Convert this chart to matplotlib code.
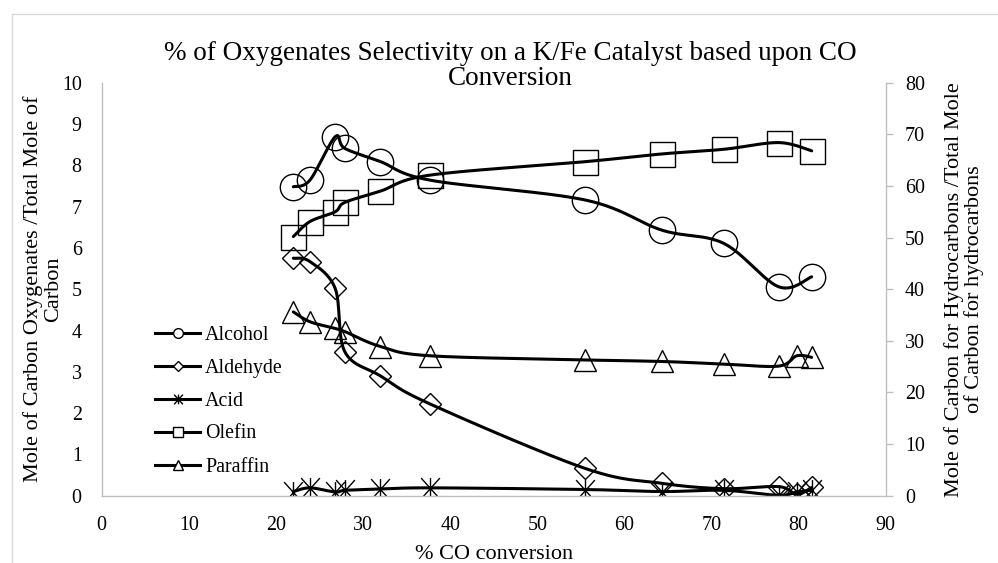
import numpy as np
import matplotlib
matplotlib.use("Agg")
import matplotlib.pyplot as plt
from matplotlib.lines import Line2D
from matplotlib.path import Path
from matplotlib.patches import Rectangle

plt.rcParams['font.family'] = ['Liberation Serif', 'DejaVu Serif']

# ---- data -------------------------------------------------------------
co_conv = [22.0, 23.9, 26.8, 27.9, 32.0, 37.7, 55.5, 64.3, 71.4, 77.7, 79.8, 81.5]
co_conv_no80 = [22.0, 23.9, 26.8, 27.9, 32.0, 37.7, 55.5, 64.3, 71.4, 77.7, 81.5]

alcohol = [7.48, 7.64, 8.69, 8.41, 8.09, 7.64, 7.16, 6.43, 6.11, 5.06, 5.30]
aldehyde = [5.75, 5.67, 5.02, 3.49, 2.90, 2.22, 0.66, 0.30, 0.17, 0.22, 0.03, 0.20]
acid = [0.10, 0.19, 0.09, 0.13, 0.16, 0.19, 0.15, 0.10, 0.13, 0.01, 0.09, 0.13]
olefin = [50.2, 53.1, 55.0, 56.8, 59.0, 62.1, 64.7, 66.2, 67.1, 68.4, 66.8]
paraffin = [35.6, 33.7, 32.4, 31.8, 28.9, 27.1, 26.3, 26.0, 25.5, 25.1, 27.1, 26.8]

x_ticks = [0, 10, 20, 30, 40, 50, 60, 70, 80, 90]
left_ticks = list(range(0, 11))
right_ticks = list(range(0, 81, 10))

title = "% of Oxygenates Selectivity on a K/Fe Catalyst based upon CO\nConversion"
xlabel = "% CO conversion"
ylabel_left = "Mole of Carbon Oxygenates /Total Mole of\nCarbon"
ylabel_right = "Mole of Carbon for Hydrocarbons /Total Mole\nof Carbon for hydrocarbons"


def smooth(xs, ys, n=40):
    """Catmull-Rom style smoothed line through the points (cubic Bezier segments)."""
    p = np.column_stack([xs, ys]).astype(float)
    ext = np.vstack([p[0], p, p[-1]])
    out = [p[:1]]
    t = np.linspace(0, 1, n)[1:, None]
    for i in range(len(p) - 1):
        p0, p1, p2, p3 = ext[i], ext[i + 1], ext[i + 2], ext[i + 3]
        c1 = p1 + (p2 - p0) / 6.0
        c2 = p2 - (p3 - p1) / 6.0
        seg = ((1 - t) ** 3) * p1 + 3 * ((1 - t) ** 2) * t * c1 + 3 * (1 - t) * t ** 2 * c2 + t ** 3 * p2
        out.append(seg)
    pts = np.vstack(out)
    return pts[:, 0], pts[:, 1]


# asterisk marker: an X with a vertical bar
star_path = Path(
    [(-0.9, -1), (0.9, 1), (-0.9, 1), (0.9, -1), (0, -1), (0, 1)],
    [Path.MOVETO, Path.LINETO, Path.MOVETO, Path.LINETO, Path.MOVETO, Path.LINETO],
)

W, H, DPI = 998, 563, 100
fig = plt.figure(figsize=(W / DPI, H / DPI), dpi=DPI)
fig.patch.set_facecolor('white')

# chart-area frame
fig.patches.append(Rectangle((12 / W, -0.2), 1.5, 1 - 14 / H + 0.2, transform=fig.transFigure,
                             fill=False, edgecolor='#d9d9d9', linewidth=1.0, zorder=0))

left, right, bottom, top = 101.7, 885.7, 495.7, 82.7
ax = fig.add_axes([left / W, 1 - bottom / H, (right - left) / W, (bottom - top) / H])
ax2 = ax.twinx()

LW = 2.2
MEW = 1.0
grey = '#bfbfbf'

series_left = [
    ("Alcohol", co_conv_no80, alcohol, 'o', 19),
    ("Aldehyde", co_conv, aldehyde, 'D', 11.5),
    ("Acid", co_conv, acid, star_path, 15),
]
series_right = [
    ("Olefin", co_conv_no80, olefin, 's', 18),
    ("Paraffin", co_conv, paraffin, '^', 16.5),
]

for axis, group in ((ax, series_left), (ax2, series_right)):
    for name, xs, ys, mk, ms in group:
        axis.plot(xs, ys, linestyle='none', marker=mk, markersize=ms,
                  markerfacecolor='none', markeredgecolor='black', markeredgewidth=MEW)
        sx, sy = smooth(xs, ys)
        axis.plot(sx, sy, color='black', linewidth=LW, solid_capstyle='round')

ax.set_xlim(0, 90)
ax.set_ylim(0, 10)
ax2.set_ylim(0, 80)
ax.set_xticks(x_ticks)
ax.set_yticks(left_ticks)
ax2.set_yticks(right_ticks)

for a in (ax, ax2):
    a.patch.set_visible(False)
    a.spines['top'].set_visible(False)
    for s in ('left', 'right', 'bottom'):
        a.spines[s].set_color(grey)
        a.spines[s].set_linewidth(1.0)
ax.spines['right'].set_visible(False)
ax2.spines['left'].set_visible(False)
ax2.spines['bottom'].set_visible(False)

ax.tick_params(axis='x', length=0, pad=14.9, labelsize=14.4)
ax.tick_params(axis='y', length=0, pad=14.4, labelsize=14.4)
ax2.tick_params(axis='y', length=5, width=1.0, color=grey, pad=8.9, labelsize=14.4)

ax.set_xlabel(xlabel, fontsize=16, va='center')
ax.xaxis.set_label_coords(0.5, (bottom - 554.5) / (bottom - top))
ax.set_ylabel(ylabel_left, fontsize=16, va='center', ha='center', multialignment='center', linespacing=1.05)
ax.yaxis.set_label_coords((43 - left) / (right - left), 0.5)
ax2.set_ylabel(ylabel_right, fontsize=16, va='center', ha='center', multialignment='center',
               rotation=90, linespacing=1.05)
ax2.yaxis.set_label_coords((964 - left) / (right - left), 0.5)

fig.text(510 / W, 1 - 66 / H, title, ha='center', va='center', fontsize=19.5,
         multialignment='center', linespacing=1.0)

# legend
handles = []
for name, xs, ys, mk, ms in series_left + series_right:
    lms = {'o': 7, 'D': 5.2, 's': 7, '^': 7}.get(mk, 7) if isinstance(mk, str) else 7
    handles.append(Line2D([], [], color='black', linewidth=LW, marker=mk, markersize=lms,
                          markerfacecolor='white', markeredgecolor='black', markeredgewidth=MEW,
                          label=name))
fig.legend(handles=handles, loc='upper left', bbox_to_anchor=(155 / W, 1 - 325.5 / H),
           frameon=False, fontsize=14.4, handlelength=2.25, handletextpad=0.25,
           labelspacing=0.7, borderpad=0, borderaxespad=0)

fig.savefig('out.png', dpi=DPI)
